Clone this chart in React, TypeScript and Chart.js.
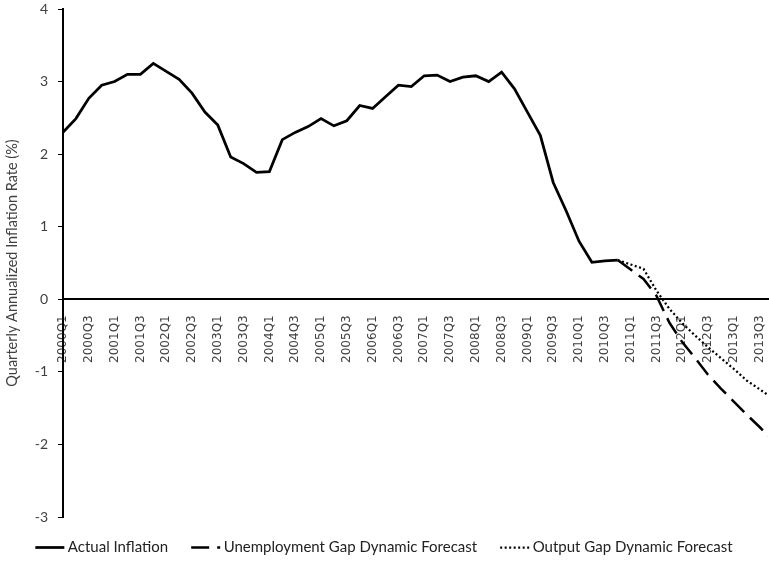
import React, { useEffect, useRef } from 'react';
import { Chart, registerables } from 'chart.js';

Chart.register(...registerables);

const quarters = [
  '2000Q1', '2000Q2', '2000Q3', '2000Q4', '2001Q1', '2001Q2', '2001Q3', '2001Q4',
  '2002Q1', '2002Q2', '2002Q3', '2002Q4', '2003Q1', '2003Q2', '2003Q3', '2003Q4',
  '2004Q1', '2004Q2', '2004Q3', '2004Q4', '2005Q1', '2005Q2', '2005Q3', '2005Q4',
  '2006Q1', '2006Q2', '2006Q3', '2006Q4', '2007Q1', '2007Q2', '2007Q3', '2007Q4',
  '2008Q1', '2008Q2', '2008Q3', '2008Q4', '2009Q1', '2009Q2', '2009Q3', '2009Q4',
  '2010Q1', '2010Q2', '2010Q3', '2010Q4', '2011Q1', '2011Q2', '2011Q3', '2011Q4',
  '2012Q1', '2012Q2', '2012Q3', '2012Q4', '2013Q1', '2013Q2', '2013Q3', '2013Q4',
];

const actualInflation = [
  2.30, 2.49, 2.77, 2.95, 3.00, 3.10, 3.10, 3.25, 3.14, 3.03, 2.84, 2.58,
  2.40, 1.96, 1.87, 1.75, 1.76, 2.20, 2.30, 2.38, 2.49, 2.39, 2.46, 2.67,
  2.63, 2.79, 2.95, 2.93, 3.08, 3.09, 3.00, 3.06, 3.08, 3.00, 3.13, 2.90,
  2.58, 2.26, 1.61, 1.22, 0.80, 0.51, 0.53, 0.54,
];

// forecasts start at 2010Q4
const forecastStartQuarter = '2010Q4';
const unemploymentGapForecast = [
  0.54, 0.41, 0.28, 0.05, -0.32, -0.59, -0.81, -1.04, -1.23, -1.41, -1.59, -1.76, -1.94,
];
const outputGapForecast = [
  0.54, 0.48, 0.42, 0.12, -0.13, -0.33, -0.50, -0.66, -0.81, -0.96, -1.12, -1.24, -1.36,
];

const yMin = -3;
const yMax = 4;
const shownQuarterLabels = quarters.filter((_, i) => i % 2 === 0);

const SAMPLE_LEN = 29;

const legendSamples = {
  id: 'legendSamples',
  afterDraw(chart: any) {
    const lg = chart.legend;
    if (!lg || !lg.legendHitBoxes) return;
    const ctx = chart.ctx;
    lg.legendHitBoxes.forEach((hb: any, i: number) => {
      const ds = chart.data.datasets[i];
      const y = hb.top + hb.height / 2;
      ctx.save();
      ctx.strokeStyle = '#000';
      ctx.lineWidth = ds.borderWidth;
      ctx.lineCap = 'butt';
      ctx.setLineDash(ds.borderDash || []);
      ctx.beginPath();
      ctx.moveTo(hb.left, y);
      ctx.lineTo(hb.left + SAMPLE_LEN, y);
      ctx.stroke();
      ctx.restore();
    });
  },
};

export default function App() {
  const ref = useRef<HTMLCanvasElement>(null);

  useEffect(() => {
    if (!ref.current) return;
    const start = quarters.indexOf(forecastStartQuarter);
    const toPoints = (vals: number[], s: number) => vals.map((v, i) => ({ x: s + i, y: v }));
    const tickValues = shownQuarterLabels.map((q) => quarters.indexOf(q));

    const chart = new Chart(ref.current, {
      type: 'line',
      data: {
        datasets: [
          {
            label: 'Actual Inflation',
            data: toPoints(actualInflation, 0),
            borderColor: '#000',
            backgroundColor: '#000',
            borderWidth: 2.75,
            pointRadius: 0,
            tension: 0,
            fill: false,
          },
          {
            label: 'Unemployment Gap Dynamic Forecast',
            data: toPoints(unemploymentGapForecast, start),
            borderColor: '#000',
            backgroundColor: '#000',
            borderWidth: 2.5,
            borderDash: [18, 8],
            pointRadius: 0,
            tension: 0,
            fill: false,
          },
          {
            label: 'Output Gap Dynamic Forecast',
            data: toPoints(outputGapForecast, start),
            borderColor: '#000',
            backgroundColor: '#000',
            borderWidth: 2.25,
            borderDash: [2, 2.5],
            pointRadius: 0,
            tension: 0,
            fill: false,
          },
        ],
      },
      plugins: [legendSamples],
      options: {
        animation: false,
        responsive: false,
        layout: { padding: { top: 9, left: 0, right: 1, bottom: -4 } },
        plugins: {
          tooltip: { enabled: false },
          legend: {
            position: 'bottom',
            labels: {
              boxWidth: 25,
              boxHeight: 2,
              padding: 23,
              color: '#222',
              font: { family: 'Lato', size: 15 },
              generateLabels: (c: any) =>
                c.data.datasets.map((ds: any, i: number) => ({
                  text: ds.label,
                  fillStyle: 'rgba(0,0,0,0)',
                  strokeStyle: 'rgba(0,0,0,0)',
                  lineWidth: 0,
                  hidden: false,
                  datasetIndex: i,
                  fontColor: '#222',
                })),
            },
          },
        },
        scales: {
          x: {
            type: 'linear',
            position: { y: 0 },
            min: 0,
            max: 54.65,
            afterBuildTicks: (scale: any) => {
              scale.ticks = tickValues.map((v) => ({ value: v }));
            },
            afterFit: (scale: any) => {
              scale.paddingLeft = 0;
              scale.paddingRight = 0;
            },
            ticks: {
              autoSkip: false,
              minRotation: 90,
              maxRotation: 90,
              padding: 16,
              color: '#404040',
              font: { family: 'DejaVu Sans', size: 12 },
              callback: (v: any) => quarters[v as number] ?? '',
            },
            grid: { display: false, drawTicks: false },
            border: { display: true, color: '#000', width: 2 },
          },
          y: {
            min: yMin,
            max: yMax,
            afterFit: (scale: any) => {
              scale.width = 63;
              scale.paddingTop = 0;
              scale.paddingBottom = 0;
            },
            ticks: {
              stepSize: 1,
              padding: 10,
              color: '#404040',
              font: { family: 'Lato', size: 14 },
            },
            grid: {
              display: true,
              drawOnChartArea: false,
              drawTicks: true,
              tickLength: 5,
              color: '#000',
              lineWidth: 1,
            },
            border: { display: true, color: '#000', width: 2 },
            title: {
              display: true,
              text: 'Quarterly Annualized Inflation Rate (%)',
              color: '#404040',
              font: { family: 'Lato', size: 14.5 },
              padding: { top: 4, bottom: 0 },
            },
          },
        },
      },
    } as any);

    return () => chart.destroy();
  }, []);

  return (
    <div style={{ position: 'absolute', left: 0, top: 0, width: 769, height: 561 }}>
      <canvas ref={ref} width={769} height={561} style={{ display: 'block', width: 769, height: 561 }} />
    </div>
  );
}
